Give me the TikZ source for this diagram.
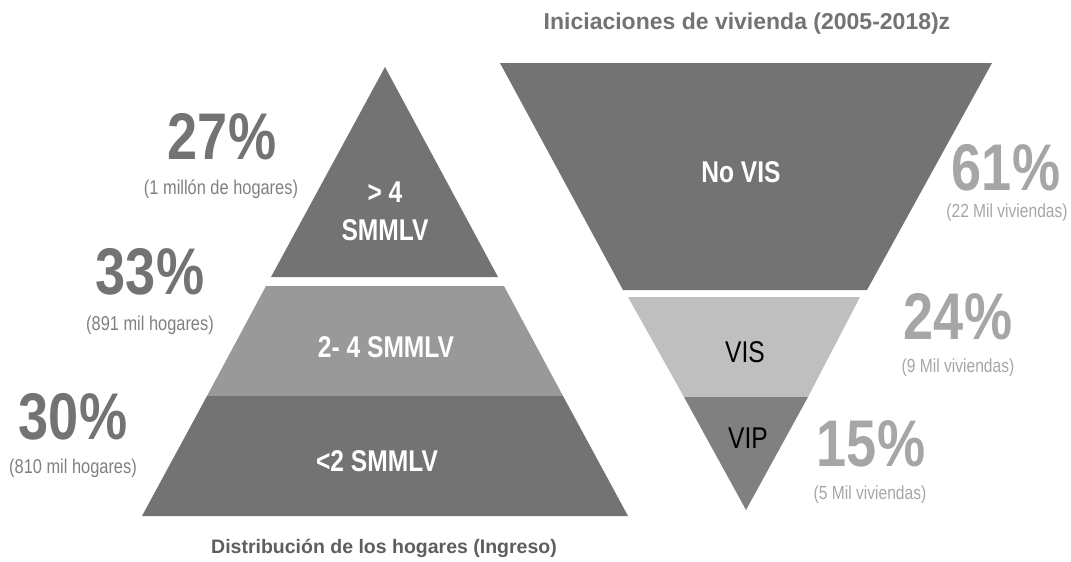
\documentclass[tikz,border=0pt]{standalone}
\usepackage{fontspec}
\setmainfont{Liberation Sans}[FakeStretch=0.82]
\newfontfamily\headfont{Liberation Sans}
\definecolor{segdark}{HTML}{737373}
\definecolor{segmid}{HTML}{999999}
\definecolor{segvis}{HTML}{BFBFBF}
\definecolor{segvip}{HTML}{808080}
\definecolor{pctleft}{HTML}{737373}
\definecolor{subleft}{HTML}{808080}
\definecolor{pctright}{HTML}{A6A6A6}
\definecolor{headgray}{HTML}{5E5E5E}
\begin{document}
\begin{tikzpicture}[x=1pt,y=-1pt,
    pct/.style={font=\fontsize{66}{66}\selectfont\bfseries, inner sep=0pt},
    sub/.style={font=\fontsize{20}{20}\selectfont, inner sep=0pt},
    seg/.style={font=\fontsize{30}{38}\selectfont\bfseries, text=white, align=center, inner sep=0pt},
    heading/.style={font=\headfont\fontsize{19.5}{20}\selectfont\bfseries, text=headgray, inner sep=0pt}]
  \useasboundingbox (0,0) rectangle (1071,562);
  % piramide de hogares
  \fill[segdark] (385,67) -- (498,277) -- (271,277) -- cycle;
  \fill[segmid] (266,286) -- (504,286) -- (563,396) -- (207,396) -- cycle;
  \fill[segdark] (207,396) -- (563,396) -- (628,516) -- (142,516) -- cycle;
  % embudo de viviendas
  \fill[segdark] (500,63) -- (992,63) -- (867,290) -- (623,290) -- cycle;
  \fill[segvis] (628,297) -- (860,297) -- (808,397) -- (684,397) -- cycle;
  \fill[segvip] (684,397) -- (808,397) -- (746,510) -- cycle;
  % textos dentro de las figuras
  \node[seg] (ingalto) at (385,211) {> 4\\SMMLV};
  \node[seg] (ingmedio) at (386,347) {2- 4 SMMLV};
  \node[seg] (ingbajo) at (377,461) {<2 SMMLV};
  \node[seg] (novis) at (741,172) {No VIS};
  \node[seg, text=black, font=\fontsize{30}{30}\selectfont] (vis) at (745,352) {VIS};
  \node[seg, text=black, font=\fontsize{30}{30}\selectfont] (vip) at (748,438) {VIP};
  % porcentajes hogares
  \node[pct, text=pctleft] (p27) at (222,137) {27\%};
  \node[sub, text=subleft] (n27) at (221,189) {(1 millón de hogares)};
  \node[pct, text=pctleft] (p33) at (150,272) {33\%};
  \node[sub, text=subleft] (n33) at (150,325) {(891 mil hogares)};
  \node[pct, text=pctleft] (p30) at (73,417) {30\%};
  \node[sub, text=subleft] (n30) at (73,468) {(810 mil hogares)};
  % porcentajes viviendas
  \node[pct, text=pctright] (p61) at (1006,168) {61\%};
  \node[sub, text=pctright, font=\fontsize{19}{19}\selectfont] (n61) at (1007,213) {(22 Mil viviendas)};
  \node[pct, text=pctright] (p24) at (958,317) {24\%};
  \node[sub, text=pctright, font=\fontsize{19}{19}\selectfont] (n24) at (958,368) {(9 Mil viviendas)};
  \node[pct, text=pctright] (p15) at (871,444) {15\%};
  \node[sub, text=pctright, font=\fontsize{19}{19}\selectfont] (n15) at (870,495) {(5 Mil viviendas)};
  % titulos
  \node[heading] (tithog) at (384,548) {Distribución de los hogares (Ingreso)};
  \node[heading, text=segdark, font=\headfont\fontsize{23}{23}\selectfont\bfseries] (titviv) at (747,24) {Iniciaciones de vivienda (2005-2018)z};
\end{tikzpicture}
\end{document}
